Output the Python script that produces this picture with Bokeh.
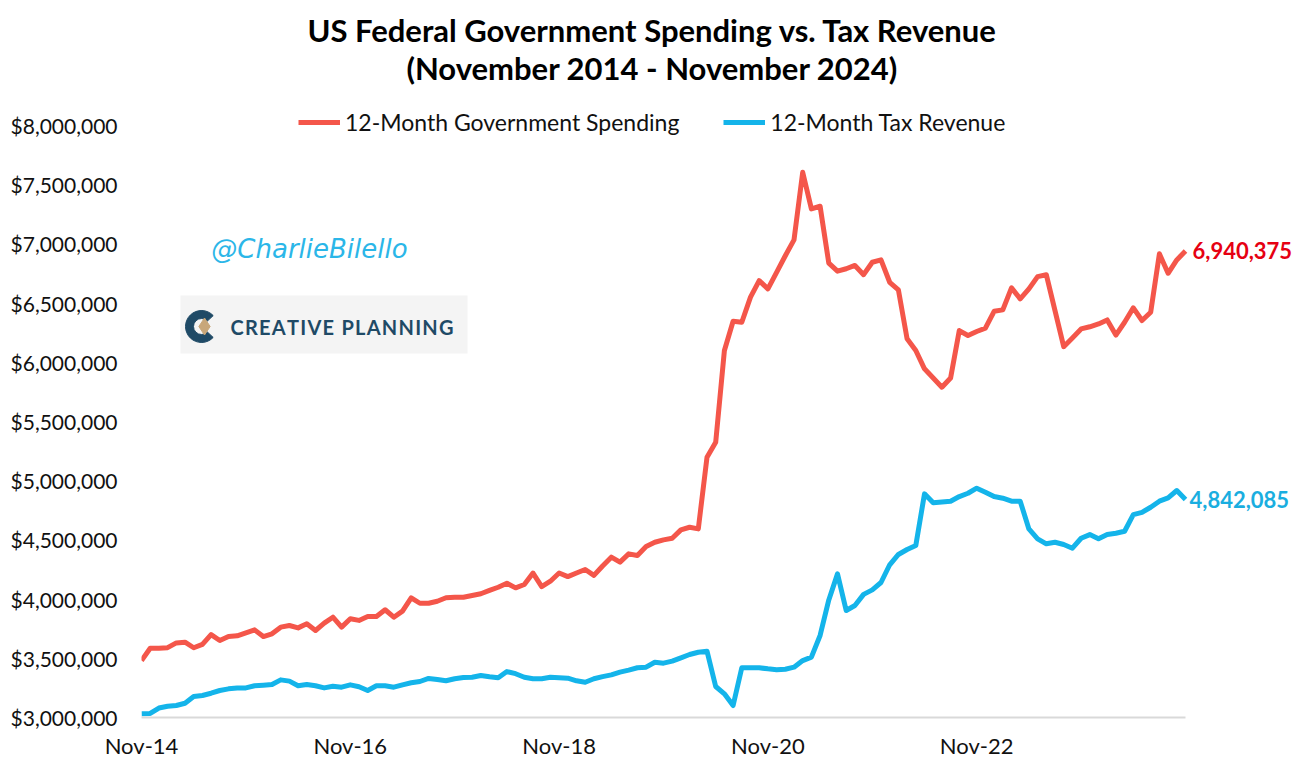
from bokeh.plotting import figure
from bokeh.models import (Range1d, Label, Legend, LegendItem, NumeralTickFormatter,
                          FixedTicker, BoxAnnotation)
from bokeh.embed import file_html
from bokeh.resources import INLINE

# ---------------- data (monthly, Nov-2014 .. Nov-2024), in $ millions / 1e6 ----------------
spending_m = [3.48, 3.585, 3.585, 3.59, 3.63, 3.636, 3.589, 3.617, 3.70, 3.65,
              3.684, 3.69, 3.715, 3.74, 3.684, 3.707, 3.763, 3.777, 3.757, 3.791,
              3.735, 3.797, 3.847, 3.763, 3.834, 3.82, 3.853, 3.853, 3.91, 3.847,
              3.898, 4.011, 3.965, 3.965, 3.982, 4.011, 4.016, 4.016, 4.03, 4.045,
              4.073, 4.10, 4.134, 4.095, 4.123, 4.22, 4.106, 4.151, 4.22, 4.19,
              4.22, 4.25, 4.20, 4.28, 4.354, 4.312, 4.382, 4.368, 4.444, 4.48,
              4.50, 4.514, 4.585, 4.607, 4.593, 5.198, 5.325, 6.10, 6.347, 6.338,
              6.55, 6.69, 6.62, 6.76, 6.90, 7.034, 7.605, 7.296, 7.318, 6.837,
              6.77, 6.79, 6.818, 6.74, 6.845, 6.865, 6.676, 6.612, 6.198, 6.10,
              5.945, 5.868, 5.79, 5.868, 6.268, 6.226, 6.26, 6.288, 6.431, 6.443,
              6.629, 6.536, 6.62, 6.724, 6.74, 6.436, 6.132, 6.206, 6.282, 6.30,
              6.324, 6.358, 6.23, 6.338, 6.46, 6.353, 6.423, 6.916, 6.752, 6.865,
              6.940375]
revenue_m = [3.031, 3.034, 3.08, 3.095, 3.101, 3.12, 3.177, 3.186, 3.205, 3.228,
             3.242, 3.25, 3.25, 3.268, 3.273, 3.279, 3.318, 3.307, 3.268, 3.279,
             3.268, 3.25, 3.264, 3.256, 3.276, 3.26, 3.228, 3.268, 3.268, 3.256,
             3.276, 3.293, 3.304, 3.33, 3.321, 3.31, 3.327, 3.338, 3.34, 3.355,
             3.344, 3.336, 3.388, 3.37, 3.34, 3.327, 3.327, 3.34, 3.336, 3.332,
             3.31, 3.298, 3.327, 3.345, 3.36, 3.383, 3.40, 3.42, 3.425, 3.467,
             3.459, 3.476, 3.504, 3.532, 3.551, 3.56, 3.262, 3.20, 3.101, 3.42,
             3.42, 3.42, 3.411, 3.404, 3.408, 3.425, 3.481, 3.51, 3.693, 3.993,
             4.213, 3.904, 3.946, 4.04, 4.078, 4.14, 4.29, 4.377, 4.419, 4.453,
             4.889, 4.813, 4.82, 4.827, 4.866, 4.894, 4.937, 4.903, 4.866, 4.852,
             4.827, 4.827, 4.593, 4.509, 4.467, 4.48, 4.461, 4.43, 4.514, 4.545,
             4.509, 4.545, 4.556, 4.573, 4.714, 4.733, 4.776, 4.827, 4.855, 4.917,
             4.842085]
x_tick_labels = ["Nov-14", "Nov-16", "Nov-18", "Nov-20", "Nov-22"]
x_tick_step = 24
y_ticks = [3000000, 3500000, 4000000, 4500000, 5000000, 5500000,
           6000000, 6500000, 7000000, 7500000, 8000000]
series_names = ["12-Month Government Spending", "12-Month Tax Revenue"]
title_lines = ["US Federal Government Spending vs. Tax Revenue",
               "(November 2014 - November 2024)"]

spending = [v * 1_000_000 for v in spending_m]
revenue = [v * 1_000_000 for v in revenue_m]
months = list(range(len(spending)))

RED = "#F4564A"
BLUE = "#14B4EA"
FONT = "Lato"

W, H = 1298, 768
LEFT, BOTTOM = 141, 717          # frame left / bottom in canvas pixels
PX_PER_MONTH = 1044 / 120
PX_PER_UNIT = 592 / 5e6

x_end = (W - LEFT) / PX_PER_MONTH
y_end = 3e6 + BOTTOM / PX_PER_UNIT

def xd(px):
    return (px - LEFT) / PX_PER_MONTH

def yd(py):
    return 3e6 + (BOTTOM - py) / PX_PER_UNIT

p = figure(width=W, height=H, output_backend="svg", toolbar_location=None,
           x_range=Range1d(0, x_end), y_range=Range1d(3e6, y_end),
           min_border_left=LEFT, min_border_right=0, min_border_top=0,
           min_border_bottom=H - BOTTOM)
p.outline_line_color = None
p.background_fill_color = "white"
p.border_fill_color = "white"
p.xgrid.visible = False
p.ygrid.visible = False

# axes
p.yaxis.ticker = FixedTicker(ticks=y_ticks)
p.yaxis.formatter = NumeralTickFormatter(format="$0,0")
p.yaxis.axis_line_color = None
p.yaxis.major_tick_line_color = None
p.yaxis.minor_tick_line_color = None
p.yaxis.major_label_text_font = FONT
p.yaxis.major_label_text_font_size = "21px"
p.yaxis.major_label_text_color = "#111111"
p.yaxis.major_label_standoff = 18

xt = [i * x_tick_step for i in range(len(x_tick_labels))]
p.xaxis.ticker = FixedTicker(ticks=xt)
p.xaxis.major_label_overrides = {t: lab for t, lab in zip(xt, x_tick_labels)}
p.xaxis.bounds = (months[0], months[-1])
p.xaxis.axis_line_color = "#D9D9D9"
p.xaxis.axis_line_width = 2
p.xaxis.major_tick_line_color = None
p.xaxis.minor_tick_line_color = None
p.xaxis.major_label_text_font = FONT
p.xaxis.major_label_text_font_size = "22px"
p.xaxis.major_label_text_color = "#111111"
p.xaxis.major_label_standoff = 8

# logo background box
p.add_layout(BoxAnnotation(left=xd(180), right=xd(467), top=yd(295), bottom=yd(353),
                           fill_color="#F4F4F4", fill_alpha=1, line_color=None, level="underlay"))

# lines
r1 = p.line(months, spending, line_color=RED, line_width=5, line_join="round")
r2 = p.line(months, revenue, line_color=BLUE, line_width=5, line_join="round")

legend = Legend(items=[LegendItem(label=series_names[0], renderers=[r1]),
                       LegendItem(label=series_names[1], renderers=[r2])],
                orientation="horizontal", location=(157, 581),
                label_text_font=FONT, label_text_font_size="23px",
                label_text_color="#111111",
                glyph_width=42, glyph_height=20, spacing=44, label_standoff=5,
                padding=0, margin=0, border_line_color=None, background_fill_alpha=0)
p.add_layout(legend)

# title
for txt, py in zip(title_lines, [29, 67]):
    p.add_layout(Label(x=xd(652), y=yd(py), text=txt, text_align="center",
                       text_baseline="middle", text_font=FONT, text_font_style="bold",
                       text_font_size="31px", text_color="#000000"))

# end labels
p.add_layout(Label(x=months[-1], y=spending[-1], text=f"{round(spending[-1]):,}",
                   x_offset=7, text_baseline="middle", text_font=FONT,
                   text_font_style="bold", text_font_size="22px", text_color="#E60012"))
p.add_layout(Label(x=months[-1], y=revenue[-1], text=f"{round(revenue[-1]):,}",
                   x_offset=4, text_baseline="middle", text_font=FONT,
                   text_font_style="bold", text_font_size="22px", text_color="#1AAEE0"))

# watermark & logo
p.add_layout(Label(x=xd(309), y=yd(248), text="@CharlieBilello", text_align="center",
                   text_baseline="middle", text_font="DejaVu Sans", text_font_style="italic",
                   text_font_size="26px", text_color="#2BB6E8"))
p.annular_wedge(x=[xd(201)], y=[yd(326)], inner_radius=8, outer_radius=16,
                inner_radius_units="screen", outer_radius_units="screen",
                start_angle=0.75, end_angle=5.53, color="#1F4A66")
p.scatter(x=[xd(204)], y=[yd(326)], marker="diamond", size=17, color="#C8A77A")
p.add_layout(Label(x=xd(230), y=yd(326), text="\u200a".join("CREATIVE PLANNING"),
                   text_baseline="middle", text_font=FONT, text_font_style="bold",
                   text_font_size="20px", text_color="#1F4A66"))

open("out.html", "w").write(file_html(p, INLINE))
